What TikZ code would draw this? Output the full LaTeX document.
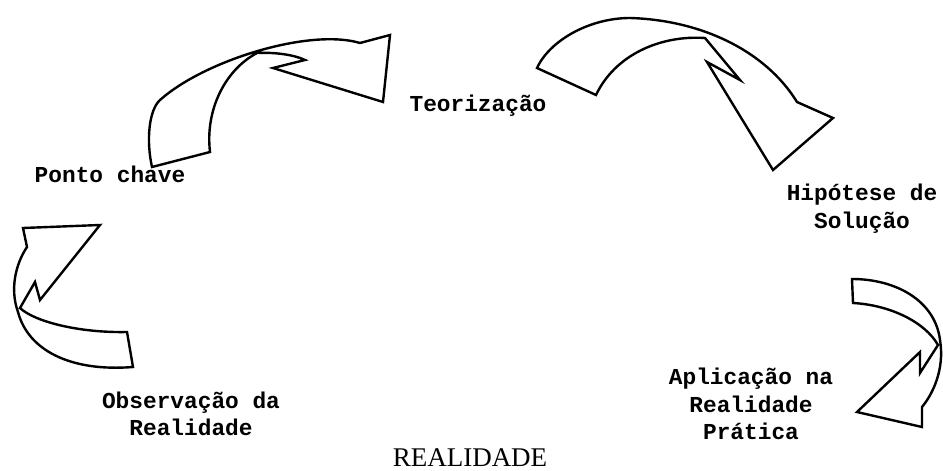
\documentclass[tikz,border=0pt]{standalone}
\usepackage{fontspec}
\newfontfamily\etapa{Liberation Mono}
\newfontfamily\titulo{Liberation Serif}
\tikzset{
  seta/.style={draw, line width=1.2pt, line join=miter},
  etapa/.style={font=\etapa\bfseries\fontsize{11.4}{13.8}\selectfont, align=center, inner sep=0pt}
}
\begin{document}
\begin{tikzpicture}[x=0.5pt, y=-0.5pt]
\useasboundingbox (0,0) rectangle (943,471);
% setas curvas
\draw[seta] (133,367) -- (127,332) .. controls (80,333) and (35,322) .. (20,308) -- (35,282) -- (40,300) -- (100,225) -- (23,228) -- (27,247)
  .. controls (15,265) and (10,290) .. (18,312) .. controls (28,350) and (70,372) .. cycle;
\draw[seta] (152,167) -- (210,152) .. controls (205,110) and (225,70) .. (257,53) .. controls (275,52) and (295,55) .. (305,60)
  -- (273,68) -- (383,102) -- (390,35) -- (360,43)
  .. controls (310,28) and (205,60) .. (160,100) .. controls (149,110) and (146,140) .. cycle;
\draw[seta] (537,68) -- (596,95) .. controls (615,55) and (660,35) .. (705,38) -- (740,80)
  -- (707,62) -- (773,170) -- (833,118) -- (797,102)
  .. controls (765,50) and (700,20) .. (630,18) .. controls (590,18) and (550,40) .. cycle;
\draw[seta] (852,279) -- (853,303) .. controls (890,305) and (925,322) .. (938,345) -- (920,373)
  -- (920,352) -- (857,412) -- (922,427) -- (922,407)
  .. controls (932,395) and (945,370) .. (940,340) .. controls (935,300) and (895,279) .. cycle;
% etapas
\node[etapa] (ponto) at (110,174) {Ponto chave};
\node[etapa] (teoria) at (478,106) {Teorização};
\node[etapa] (hipotese) at (862,209) {Hipótese de\\Solução};
\node[etapa] (aplicacao) at (751,404) {Aplicação na\\Realidade\\Prática};
\node[etapa] (obs) at (191,414) {Observação da\\Realidade};
\node[font=\titulo\fontsize{13.5}{16}\selectfont, inner sep=0pt] (realidade) at (470,458) {REALIDADE};
\end{tikzpicture}
\end{document}
